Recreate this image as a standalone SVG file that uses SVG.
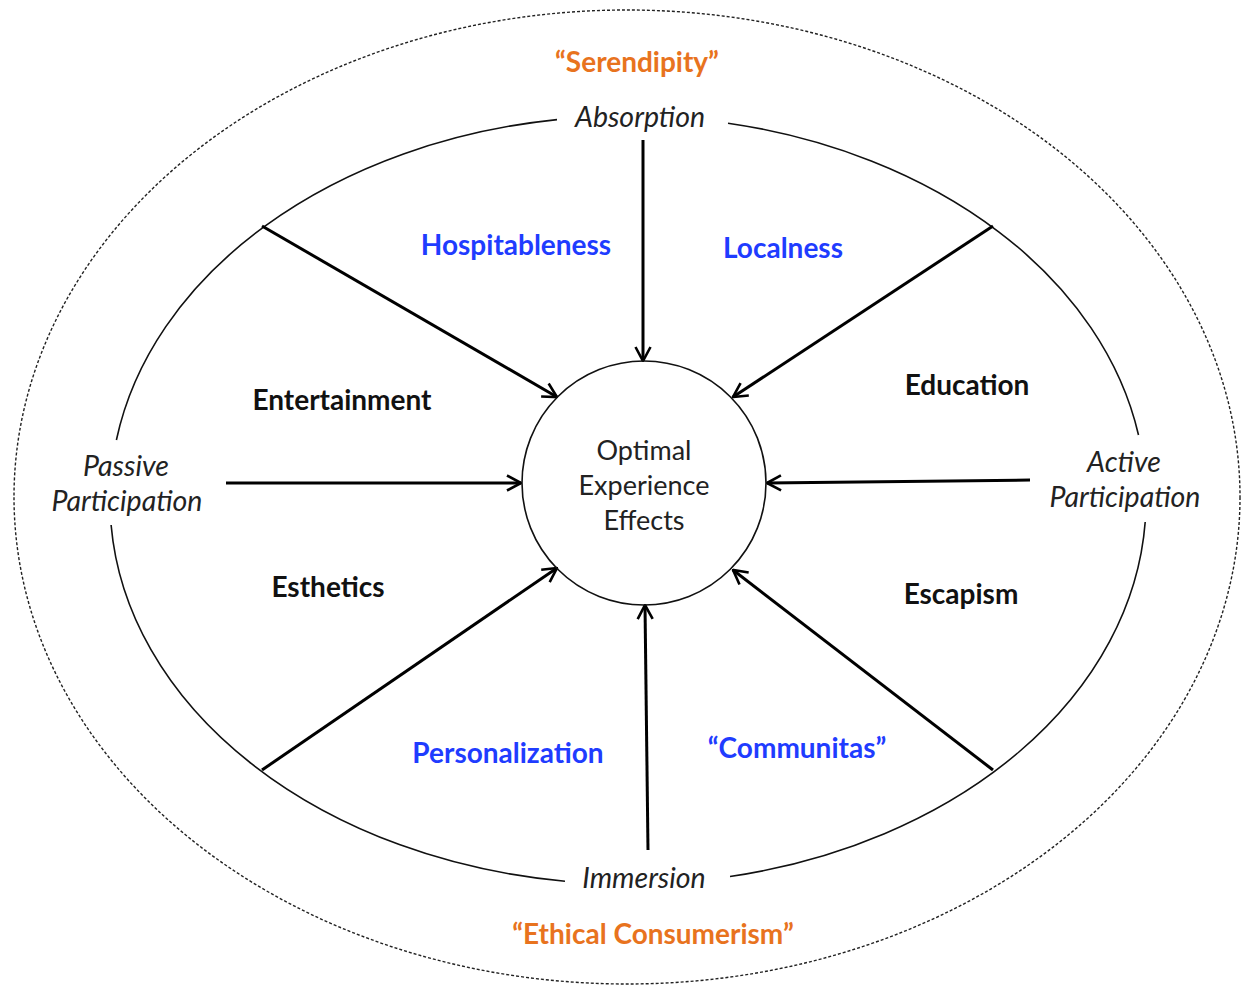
<svg xmlns="http://www.w3.org/2000/svg" width="1243" height="988" viewBox="0 0 1243 988">
<defs>
<marker id="arr" viewBox="0 0 16 18" refX="15" refY="9" markerWidth="16" markerHeight="18" markerUnits="userSpaceOnUse" orient="auto">
<path d="M1,1.5 L15,9 L1,16.5" fill="none" stroke="#000" stroke-width="2.6" stroke-linejoin="miter"/>
</marker>
<style>
.lbl{font-family:Lato,"Liberation Sans",sans-serif;font-weight:bold;font-size:28px;text-anchor:middle}
.blue{fill:#1f3cff}
.orange{fill:#e8731e}
.dark{fill:#111}
.ital{font-family:Lato,"Liberation Sans",sans-serif;font-style:italic;font-size:28.5px;text-anchor:middle;fill:#222}
.ctr{font-family:Lato,"Liberation Sans",sans-serif;font-size:27px;text-anchor:middle;fill:#222}
.conn{stroke:#000;stroke-width:3;fill:none;marker-end:url(#arr)}
</style>
</defs>
<rect width="1243" height="988" fill="#fff"/>
<g id="outer-ellipse">
<ellipse cx="627" cy="497" rx="613" ry="487" fill="none" stroke="#222" stroke-width="1.4" stroke-dasharray="3,2"/>
</g>
<g id="inner-ellipse" fill="none" stroke="#111" stroke-width="1.6">
<path d="M728,123.2 A518,384 0 0 1 1138.5,435"/>
<path d="M1145.2,522 A518,384 0 0 1 730,876.5"/>
<path d="M565,881.2 A518,384 0 0 1 111.1,525"/>
<path d="M116.4,440 A518,384 0 0 1 557,119.6"/>
</g>
<g id="connectors">
<line class="conn" x1="643" y1="140" x2="643" y2="361"/>
<line class="conn" x1="262" y1="226" x2="557" y2="397"/>
<line class="conn" x1="993" y1="226" x2="733" y2="397"/>
<line class="conn" x1="226" y1="483" x2="521" y2="483"/>
<line class="conn" x1="1030" y1="480" x2="767" y2="483"/>
<line class="conn" x1="262" y1="770" x2="557" y2="568"/>
<line class="conn" x1="993" y1="770" x2="733" y2="570"/>
<line class="conn" x1="648" y1="850" x2="645" y2="605"/>
</g>
<g id="center-node">
<circle cx="644" cy="483" r="122" fill="none" stroke="#111" stroke-width="1.6"/>
<text class="ctr" x="644" y="460">Optimal</text>
<text class="ctr" x="644" y="495">Experience</text>
<text class="ctr" x="644" y="530">Effects</text>
</g>
<g id="serendipity"><text class="lbl orange" x="637" y="72">“Serendipity”</text></g>
<g id="absorption"><text class="ital" x="640" y="127">Absorption</text></g>
<g id="hospitableness"><text class="lbl blue" x="516" y="255">Hospitableness</text></g>
<g id="localness"><text class="lbl blue" x="783" y="258">Localness</text></g>
<g id="entertainment"><text class="lbl dark" x="342" y="410">Entertainment</text></g>
<g id="education"><text class="lbl dark" x="967" y="395">Education</text></g>
<g id="passive"><text class="ital" x="126" y="476">Passive</text><text class="ital" x="127" y="511">Participation</text></g>
<g id="active"><text class="ital" x="1124" y="472">Active</text><text class="ital" x="1125" y="507">Participation</text></g>
<g id="esthetics"><text class="lbl dark" x="328" y="597">Esthetics</text></g>
<g id="escapism"><text class="lbl dark" x="961" y="604">Escapism</text></g>
<g id="personalization"><text class="lbl blue" x="508" y="763">Personalization</text></g>
<g id="communitas"><text class="lbl blue" x="797" y="758">“Communitas”</text></g>
<g id="immersion"><text class="ital" x="644" y="888">Immersion</text></g>
<g id="ethical"><text class="lbl orange" x="653" y="944">“Ethical Consumerism”</text></g>
</svg>
